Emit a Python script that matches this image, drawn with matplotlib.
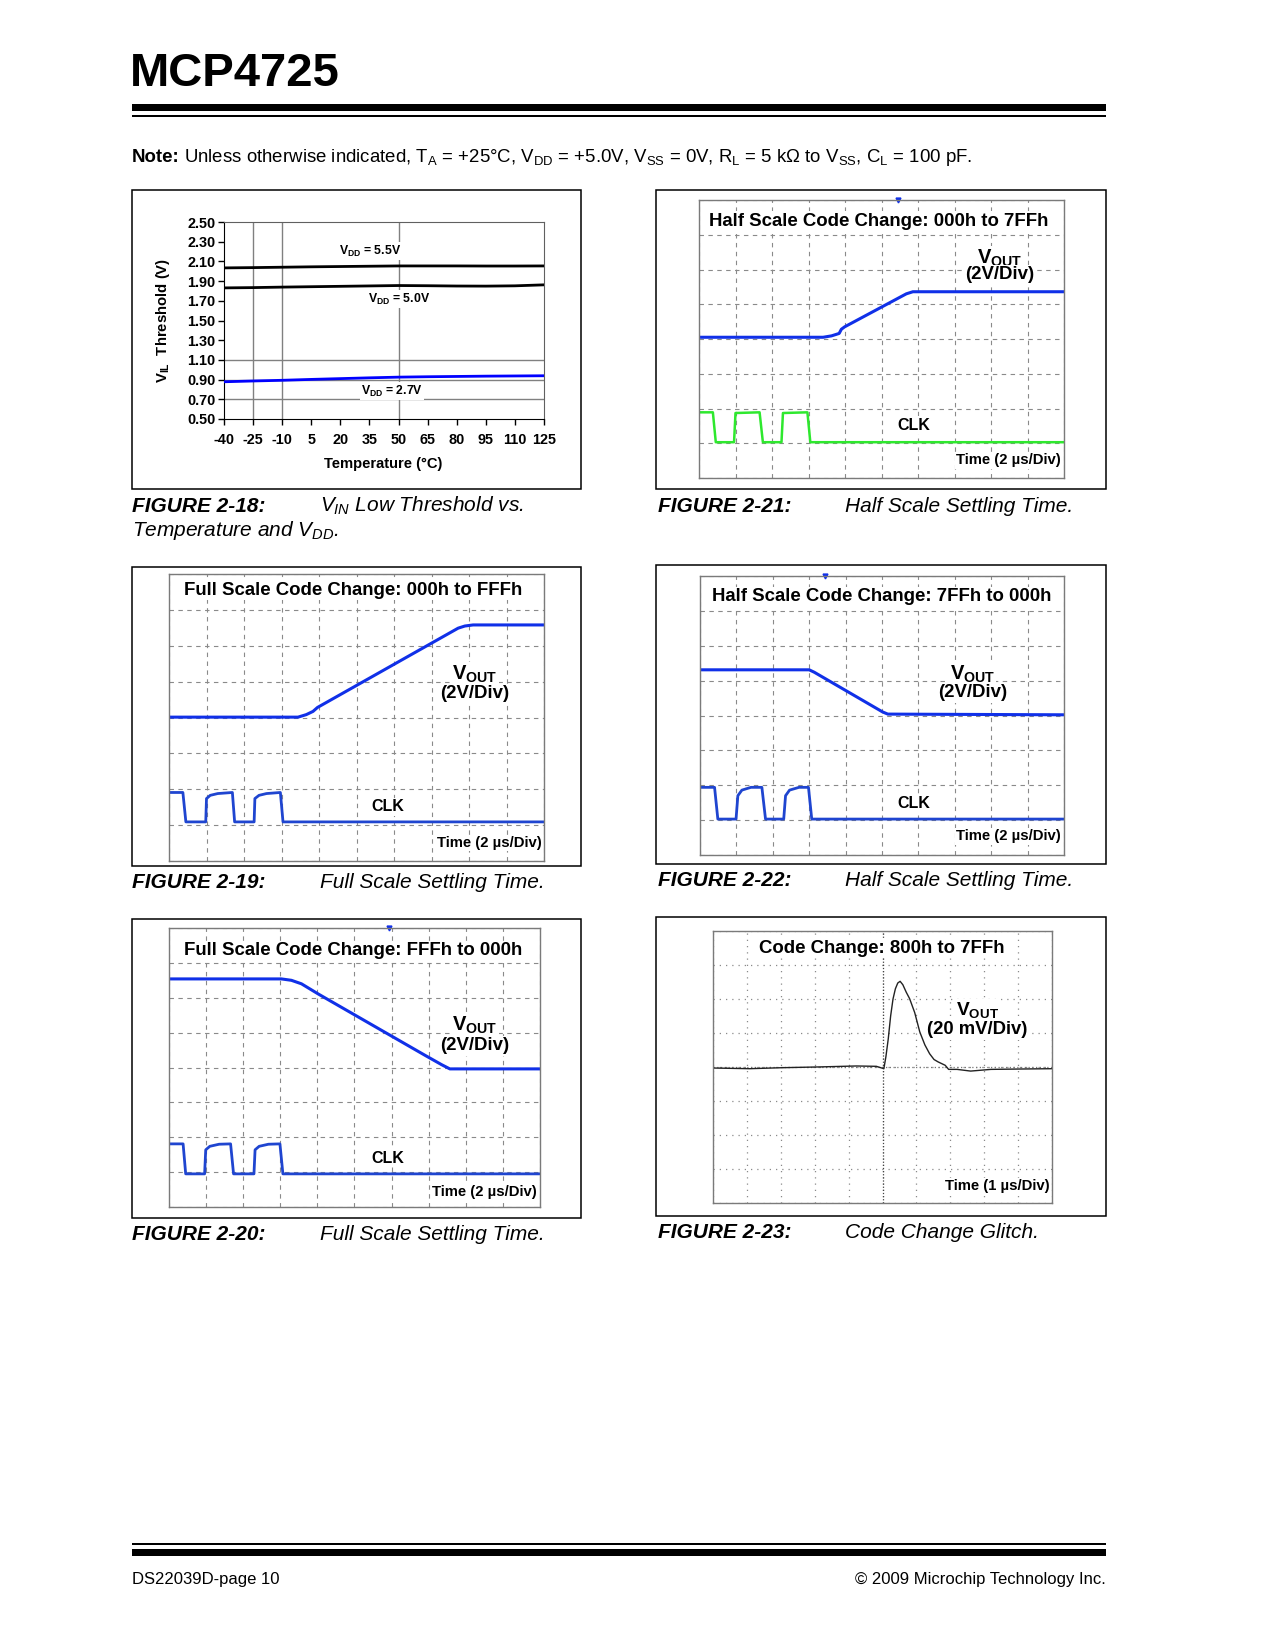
import matplotlib
matplotlib.use('Agg')
import matplotlib.pyplot as plt
from matplotlib import font_manager
from matplotlib.patches import Rectangle

W, H = 1275, 1650
names = {f.name for f in font_manager.fontManager.ttflist}
FONT = 'Liberation Sans' if 'Liberation Sans' in names else 'DejaVu Sans'

plt.rcParams['font.family'] = [FONT, 'DejaVu Sans']
plt.rcParams['mathtext.fontset'] = 'custom'
plt.rcParams['mathtext.rm'] = FONT
plt.rcParams['mathtext.it'] = FONT + ':italic'
plt.rcParams['mathtext.bf'] = FONT + ':bold'
plt.rcParams['mathtext.sf'] = FONT

# ---------------- data ----------------
# Figure 2-18: VIL threshold vs temperature
temp_c = [-40, -25, -10, 5, 20, 35, 50, 65, 80, 95, 110, 125]
vil_55 = [2.034, 2.037, 2.041, 2.045, 2.048, 2.051, 2.054, 2.054, 2.054, 2.053, 2.053, 2.054]
vil_50 = [1.831, 1.834, 1.839, 1.843, 1.847, 1.851, 1.855, 1.853, 1.850, 1.849, 1.852, 1.862]
vil_27 = [0.878, 0.886, 0.893, 0.902, 0.910, 0.918, 0.925, 0.929, 0.932, 0.935, 0.937, 0.939]
vil_ticks = [0.50, 0.70, 0.90, 1.10, 1.30, 1.50, 1.70, 1.90, 2.10, 2.30, 2.50]
vil_grid_y = [0.70, 0.90, 1.10]
vil_grid_x = [-25, -10, 50]

# scope traces, in divisions (x: 0..10 div, y: 0..8 div)
# Figure 2-21: half scale 000h -> 7FFh
f21_vout_t = [0, 3.40, 3.63, 3.84, 3.90, 3.99, 5.68, 5.86, 10]
f21_vout_v = [4.05, 4.05, 4.09, 4.16, 4.28, 4.35, 5.30, 5.36, 5.36]
f21_clk_t = [0, 0.38, 0.46, 0.96, 1.00, 1.66, 1.75, 2.26, 2.30, 2.97, 3.05, 10]
f21_clk_v = [1.89, 1.89, 1.03, 1.03, 1.87, 1.89, 1.03, 1.03, 1.87, 1.89, 1.03, 1.03]
f21_trig = 5.45

# Figure 2-19: full scale 000h -> FFFh
f19_vout_t = [0, 3.44, 3.66, 3.84, 3.96, 7.71, 7.89, 8.11, 10]
f19_vout_v = [4.01, 4.01, 4.08, 4.17, 4.28, 6.49, 6.55, 6.58, 6.58]
f19_clk_t = [0, 0.37, 0.45, 0.98, 1.00, 1.10, 1.30, 1.69, 1.75, 2.27, 2.29, 2.40, 2.60, 2.97, 3.04, 10]
f19_clk_v = [1.91, 1.91, 1.09, 1.09, 1.74, 1.83, 1.88, 1.91, 1.09, 1.09, 1.74, 1.83, 1.88, 1.91, 1.09, 1.09]

# Figure 2-22: half scale 7FFh -> 000h
f22_vout_t = [0, 3.00, 3.14, 5.02, 5.16, 10]
f22_vout_v = [5.31, 5.31, 5.24, 4.10, 4.04, 4.02]
f22_clk_t = [0, 0.40, 0.49, 0.99, 1.04, 1.15, 1.40, 1.70, 1.80, 2.30, 2.35, 2.46, 2.72, 2.98, 3.07, 10]
f22_clk_v = [1.94, 1.94, 1.03, 1.03, 1.70, 1.86, 1.94, 1.94, 1.03, 1.03, 1.70, 1.86, 1.94, 1.94, 1.03, 1.03]
f22_trig = 3.43

# Figure 2-20: full scale FFFh -> 000h
f20_vout_t = [0, 3.03, 3.30, 3.57, 4.02, 6.90, 7.35, 7.57, 10]
f20_vout_v = [6.54, 6.54, 6.50, 6.40, 6.11, 4.35, 4.08, 3.96, 3.96]
f20_clk_t = [0, 0.38, 0.45, 0.96, 0.99, 1.10, 1.35, 1.66, 1.74, 2.29, 2.32, 2.43, 2.68, 2.99, 3.07, 10]
f20_clk_v = [1.81, 1.81, 0.95, 0.95, 1.64, 1.74, 1.80, 1.81, 0.95, 0.95, 1.64, 1.74, 1.80, 1.81, 0.95, 0.95]
f20_trig = 5.93

# Figure 2-23: code change glitch 800h -> 7FFh
f23_t = [0, 1.08, 2.06, 3.05, 4.23, 4.82, 5.04, 5.10, 5.17, 5.24, 5.31, 5.38, 5.45, 5.52, 5.60,
         5.70, 5.80, 5.95, 6.10, 6.25, 6.39, 6.52, 6.64, 6.85, 6.95, 7.20, 7.60, 8.20, 9.00, 10]
f23_v = [3.97, 3.95, 3.98, 4.00, 4.03, 4.02, 3.95, 4.30, 4.83, 5.50, 6.00, 6.30, 6.47, 6.52, 6.42,
         6.20, 6.01, 5.60, 5.03, 4.65, 4.39, 4.22, 4.15, 4.05, 3.93, 3.93, 3.88, 3.93, 3.94, 3.95]

BLUE = '#1030e8'
CLKBLUE = '#1f45d0'
GREEN = '#2ee82e'

fig = plt.figure(figsize=(W / 100, H / 100), dpi=100)


def add_ax(x0, y0, x1, y1, **kw):
    return fig.add_axes([x0 / W, 1 - y1 / H, (x1 - x0) / W, (y1 - y0) / H], **kw)


def scope(box, dotted=False):
    ax = add_ax(*box)
    ax.set_xlim(0, 10)
    ax.set_ylim(0, 8)
    ax.set_xticks(range(11))
    ax.set_yticks(range(9))
    ax.tick_params(length=0, labelbottom=False, labelleft=False)
    if dotted:
        ax.grid(True, color='#8a8a8a', lw=0.9, ls=(0, (1, 4)))
    else:
        ax.grid(True, color='#8a8a8a', lw=0.8, ls=(0, (4, 4)))
    ax.set_axisbelow(True)
    for s in ax.spines.values():
        s.set_color('#7a7a7a')
        s.set_linewidth(1.0)
    return ax


# ---------- Figure 2-18 ----------
ax1 = add_ax(224, 222, 544, 419)
ax1.set_xlim(-40, 125)
ax1.set_ylim(0.5, 2.5)
ax1.set_xticks(temp_c)
ax1.set_xticklabels([str(t) for t in temp_c])
ax1.set_yticks(vil_ticks)
ax1.set_yticklabels(['%.2f' % v for v in vil_ticks])
for v in vil_grid_y:
    ax1.axhline(v, color='#808080', lw=1.0, zorder=1)
for t in vil_grid_x:
    ax1.axvline(t, color='#808080', lw=1.0, zorder=1)
ax1.plot(temp_c, vil_55, color='black', lw=2.0, zorder=3)
ax1.plot(temp_c, vil_50, color='black', lw=2.0, zorder=3)
ax1.plot(temp_c, vil_27, color='#0000ff', lw=2.0, zorder=3)
ax1.tick_params(direction='out', length=4, width=1, pad=2, labelsize=10.4)
ax1.tick_params(axis='x', pad=6)
for lab in ax1.get_xticklabels() + ax1.get_yticklabels():
    lab.set_fontweight('bold')
ax1.spines['left'].set_color('black')
ax1.spines['bottom'].set_color('black')
ax1.spines['top'].set_color('#606060')
ax1.spines['right'].set_color('#606060')

# ---------- scopes ----------
ax2 = scope((699, 200, 1064, 478))
ax2.plot(f21_vout_t, f21_vout_v, color=BLUE, lw=2.2)
ax2.plot(f21_clk_t, f21_clk_v, color=GREEN, lw=1.8)
ax2.plot([f21_trig], [8], marker='v', ms=3.5, color=BLUE, clip_on=False)

ax3 = scope((169, 574, 544, 861))
ax3.plot(f19_vout_t, f19_vout_v, color=BLUE, lw=2.2)
ax3.plot(f19_clk_t, f19_clk_v, color=CLKBLUE, lw=2.0)

ax4 = scope((700, 576, 1064, 855))
ax4.plot(f22_vout_t, f22_vout_v, color=BLUE, lw=2.2)
ax4.plot(f22_clk_t, f22_clk_v, color=CLKBLUE, lw=2.0)
ax4.plot([f22_trig], [8], marker='v', ms=3.5, color=BLUE, clip_on=False)

ax5 = scope((169, 928, 540, 1207))
ax5.plot(f20_vout_t, f20_vout_v, color=BLUE, lw=2.2)
ax5.plot(f20_clk_t, f20_clk_v, color=CLKBLUE, lw=2.0)
ax5.plot([f20_trig], [8], marker='v', ms=3.5, color=BLUE, clip_on=False)

ax6 = scope((713, 931, 1052, 1203), dotted=True)
ax6.axvline(5, color='#444444', lw=0.9, ls=(0, (1, 1.5)))
ax6.axhline(4, color='#777777', lw=0.9, ls=(0, (1, 2)))
ax6.plot(f23_t, f23_v, color='#222222', lw=1.0)

# ---------- page overlay ----------
page = fig.add_axes([0, 0, 1, 1], zorder=10)
page.set_xlim(0, W)
page.set_ylim(H, 0)
page.axis('off')
page.patch.set_alpha(0)


def txt(x, yc, s, size, ha='left', bg=False, **kw):
    box = dict(fc='white', ec='none', pad=1.0) if bg else None
    return page.text(x, yc + 0.5 * size, s, fontsize=size, ha=ha, va='baseline', bbox=box, **kw)


L, R = 131.5, 1105.5
page.add_patch(Rectangle((L, 104), R - L, 6.7, color='black', lw=0))
page.add_patch(Rectangle((L, 115), R - L, 1.8, color='black', lw=0))
page.add_patch(Rectangle((L, 1543.3), R - L, 1.8, color='black', lw=0))
page.add_patch(Rectangle((L, 1549.3), R - L, 6.4, color='black', lw=0))

for (x0, y0, x1, y1) in [(131.5, 190, 580.5, 489), (656, 190, 1106, 489),
                         (131.5, 567, 580.5, 866), (656, 565, 1106, 864),
                         (131.5, 919, 580.5, 1218), (656, 917, 1106, 1216)]:
    page.add_patch(Rectangle((x0, y0), x1 - x0, y1 - y0, fill=False, ec='black', lw=1.1))

txt(130, 68.5, 'MCP4725', 34, fontweight='bold')

NS = 13.4
note_head = txt(131.5, 155.7, 'Note:', NS, fontweight='bold')
renderer = fig.canvas.get_renderer()
head_x1 = note_head.get_window_extent(renderer).x1
txt(head_x1 + 0.28 * NS / 0.72, 155.7,
    r'Unless otherwise indicated, T$_\mathrm{A}$ = +25°C, V$_\mathrm{DD}$ = +5.0V, '
    r'V$_\mathrm{SS}$ = 0V, R$_\mathrm{L}$ = 5 kΩ to V$_\mathrm{SS}$, C$_\mathrm{L}$ = 100 pF.', NS)

# figure 2-18 texts
page.text(163, 320, r'$\mathbf{V_{IL}}$  Threshold (V)', fontsize=10.7, fontweight='bold', rotation=90,
          ha='center', va='center')
txt(383, 462.7, 'Temperature (°C)', 10.6, ha='center', fontweight='bold')
txt(370, 250, r'$\mathbf{V_{DD}}$ = 5.5V', 8.8, ha='center', bg=True, fontweight='bold')
txt(399, 298.3, r'$\mathbf{V_{DD}}$ = 5.0V', 8.8, ha='center', bg=True, fontweight='bold')
txt(391.7, 390, r'$\mathbf{V_{DD}}$ = 2.7V', 8.8, ha='center', bg=True, fontweight='bold')

# scope texts
TS = 13.4
VS = 14.5
DS = 13.4
CS = 11.5
TMS = 10.7
txt(708.7, 219, 'Half Scale Code Change: 000h to 7FFh', TS, bg=True, fontweight='bold')
txt(1000, 256, r'$\mathbf{V_{OUT}}$', VS, ha='center', bg=True)
txt(1000, 272.5, '(2V/Div)', DS, ha='center', bg=True, fontweight='bold')
txt(913.7, 424, 'CLK', CS, ha='center', bg=True, fontweight='bold')
txt(1061, 459, 'Time (2 µs/Div)', TMS, ha='right', bg=True, fontweight='bold')

txt(184.3, 588, 'Full Scale Code Change: 000h to FFFh', TS, bg=True, fontweight='bold')
txt(475, 672, r'$\mathbf{V_{OUT}}$', VS, ha='center', bg=True)
txt(475, 691.5, '(2V/Div)', DS, ha='center', bg=True, fontweight='bold')
txt(388, 805.7, 'CLK', CS, ha='center', bg=True, fontweight='bold')
txt(541.5, 841.7, 'Time (2 µs/Div)', TMS, ha='right', bg=True, fontweight='bold')

txt(712.3, 594.7, 'Half Scale Code Change: 7FFh to 000h', TS, bg=True, fontweight='bold')
txt(972.3, 672, r'$\mathbf{V_{OUT}}$', VS, ha='center', bg=True)
txt(972.3, 690.5, '(2V/Div)', DS, ha='center', bg=True, fontweight='bold')
txt(913.7, 802, 'CLK', CS, ha='center', bg=True, fontweight='bold')
txt(1061, 835, 'Time (2 µs/Div)', TMS, ha='right', bg=True, fontweight='bold')

txt(184.3, 948.7, 'Full Scale Code Change: FFFh to 000h', TS, bg=True, fontweight='bold')
txt(475, 1023, r'$\mathbf{V_{OUT}}$', VS, ha='center', bg=True)
txt(475, 1043.5, '(2V/Div)', DS, ha='center', bg=True, fontweight='bold')
txt(388.3, 1157, 'CLK', CS, ha='center', bg=True, fontweight='bold')
txt(537, 1191, 'Time (2 µs/Div)', TMS, ha='right', bg=True, fontweight='bold')

txt(759, 946, 'Code Change: 800h to 7FFh', TS, bg=True, fontweight='bold')
txt(978, 1008, r'$\mathbf{V_{OUT}}$', 13.8, ha='center', bg=True)
txt(977.3, 1027.5, '(20 mV/Div)', 13.3, ha='center', bg=True, fontweight='bold')
txt(1050, 1184.6, 'Time (1 µs/Div)', TMS, ha='right', bg=True, fontweight='bold')

# captions
CAP = 15.0
txt(132, 504, 'FIGURE 2-18:', CAP, fontweight='bold', style='italic')
txt(320, 504, r'$\mathit{V_{IN}}$ Low Threshold vs.', CAP, style='italic')
txt(132, 529, r'Temperature and $\mathit{V_{DD}}$.', CAP, style='italic')
txt(657.5, 504, 'FIGURE 2-21:', CAP, fontweight='bold', style='italic')
txt(844.7, 504, 'Half Scale Settling Time.', CAP, style='italic')
txt(132, 880.5, 'FIGURE 2-19:', CAP, fontweight='bold', style='italic')
txt(320, 880.5, 'Full Scale Settling Time.', CAP, style='italic')
txt(657.5, 878.5, 'FIGURE 2-22:', CAP, fontweight='bold', style='italic')
txt(844.7, 878.5, 'Half Scale Settling Time.', CAP, style='italic')
txt(132, 1232, 'FIGURE 2-20:', CAP, fontweight='bold', style='italic')
txt(320, 1232, 'Full Scale Settling Time.', CAP, style='italic')
txt(657.5, 1230, 'FIGURE 2-23:', CAP, fontweight='bold', style='italic')
txt(844.7, 1230, 'Code Change Glitch.', CAP, style='italic')

# footer
txt(131.5, 1578, 'DS22039D-page 10', 12.0)
txt(1105.5, 1578, '© 2009 Microchip Technology Inc.', 12.0, ha='right')

fig.savefig('out.png', dpi=100, facecolor='white')
